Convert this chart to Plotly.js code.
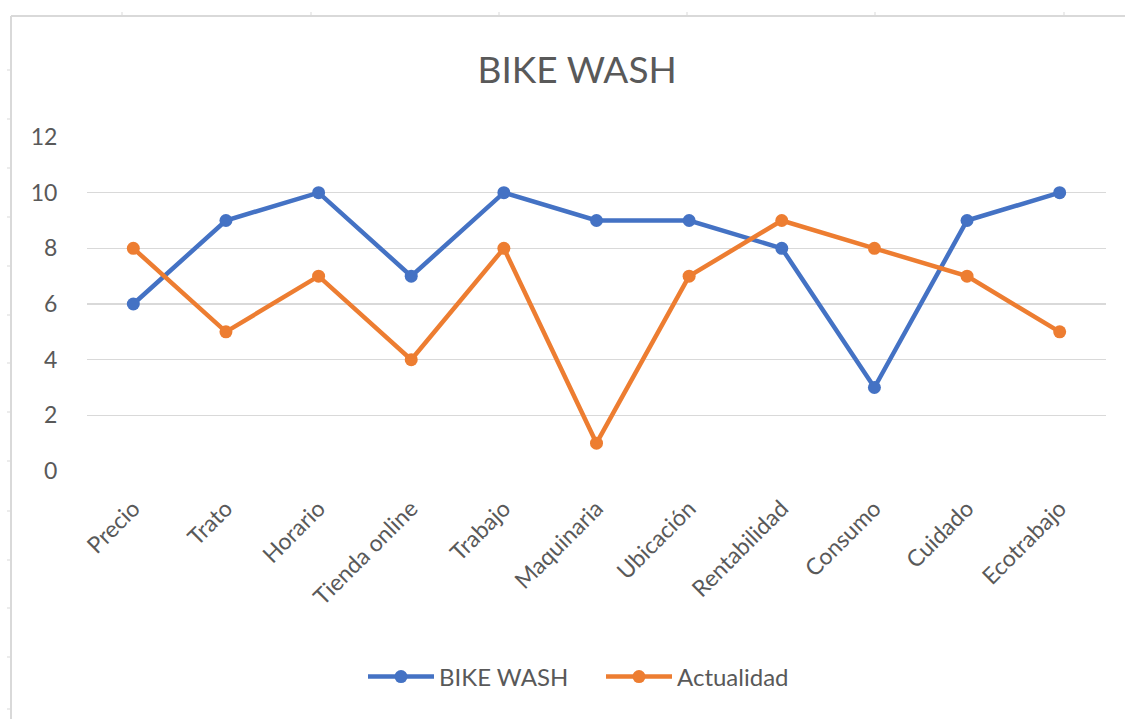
<!DOCTYPE html>
<html>
<head>
<meta charset="utf-8">
<script src="https://cdn.plot.ly/plotly-3.0.1.min.js"></script>
<style>html,body{margin:0;padding:0;background:#fff;}#chart{width:1125px;height:719px;}</style>
</head>
<body>
<div id="chart"></div>
<script>
const categories = ["Precio","Trato","Horario","Tienda online","Trabajo","Maquinaria","Ubicación","Rentabilidad","Consumo","Cuidado","Ecotrabajo"];
const bikeWash = [6, 9, 10, 7, 10, 9, 9, 8, 3, 9, 10];
const actualidad = [8, 5, 7, 4, 8, 1, 7, 9, 8, 7, 5];
const yTicks = [0, 2, 4, 6, 8, 10, 12];

const W = 1125, H = 719;
const M = {l: 87, r: 19, t: 137, b: 248};
const pw = W - M.l - M.r, ph = H - M.t - M.b;
const px = x => (x - M.l) / pw;
const py = y => (H - M.b - y) / ph;

const font = "Lato, 'Open Sans', 'Liberation Sans', sans-serif";
const gray = '#595959';

const shapes = [];
// spreadsheet-like frame in the screenshot
shapes.push({type:'line', xref:'paper', yref:'paper', x0:px(11), x1:px(1125), y0:py(16), y1:py(16), line:{color:'#d9d9d9', width:2}});
shapes.push({type:'line', xref:'paper', yref:'paper', x0:px(11), x1:px(11), y0:py(16), y1:py(719), line:{color:'#d9d9d9', width:2}});
[122, 311, 499, 687, 875, 1064].forEach(x => shapes.push({type:'line', xref:'paper', yref:'paper', x0:px(x), x1:px(x), y0:py(12), y1:py(16), line:{color:'#d9d9d9', width:1}}));
[70, 119, 168, 217, 266, 315, 363, 412, 461, 511, 560, 608, 657, 709].forEach(y => shapes.push({type:'line', xref:'paper', yref:'paper', x0:px(7), x1:px(11), y0:py(y), y1:py(y), line:{color:'#d9d9d9', width:1}}));

const traces = [
  {x: categories, y: bikeWash, name: 'BIKE WASH', type: 'scatter', mode: 'lines+markers', legend: 'legend',
   line: {color: '#4472C4', width: 4.5}, marker: {color: '#4472C4', size: 13}},
  {x: categories, y: actualidad, name: 'Actualidad', type: 'scatter', mode: 'lines+markers', legend: 'legend2',
   line: {color: '#ED7D31', width: 4.5}, marker: {color: '#ED7D31', size: 13}}
];

const legendBase = {orientation: 'h', xanchor: 'left', y: py(677), yanchor: 'middle',
                    font: {family: font, size: 24, color: gray}, itemwidth: 66, bgcolor: 'rgba(0,0,0,0)'};

const layout = {
  width: W, height: H,
  margin: M,
  paper_bgcolor: '#fff', plot_bgcolor: '#fff',
  font: {family: font, color: gray},
  title: {text: 'BIKE WASH', font: {family: font, size: 37, color: gray}, x: 0.513, xanchor: 'center', y: 1 - 70/H, yanchor: 'middle'},
  xaxis: {type: 'category', tickangle: -45, showgrid: false, zeroline: false, showline: false,
          ticks: 'outside', ticklen: 14, tickcolor: 'rgba(0,0,0,0)',
          tickfont: {family: font, size: 23, color: gray}, range: [-0.5, categories.length - 0.5], fixedrange: true},
  yaxis: {range: [0, 12], tickvals: yTicks, showgrid: true, gridcolor: '#d9d9d9', gridwidth: 1.5, zeroline: false, showline: false,
          ticks: 'outside', ticklen: 24, tickcolor: 'rgba(0,0,0,0)', tickfont: {family: font, size: 23, color: gray}, fixedrange: true},
  showlegend: true,
  legend: Object.assign({}, legendBase, {x: px(367 - 4)}),
  legend2: Object.assign({}, legendBase, {x: px(605 - 4)}),
  shapes: shapes
};

Plotly.newPlot('chart', traces, layout, {displayModeBar: false, staticPlot: true});
</script>
</body>
</html>
